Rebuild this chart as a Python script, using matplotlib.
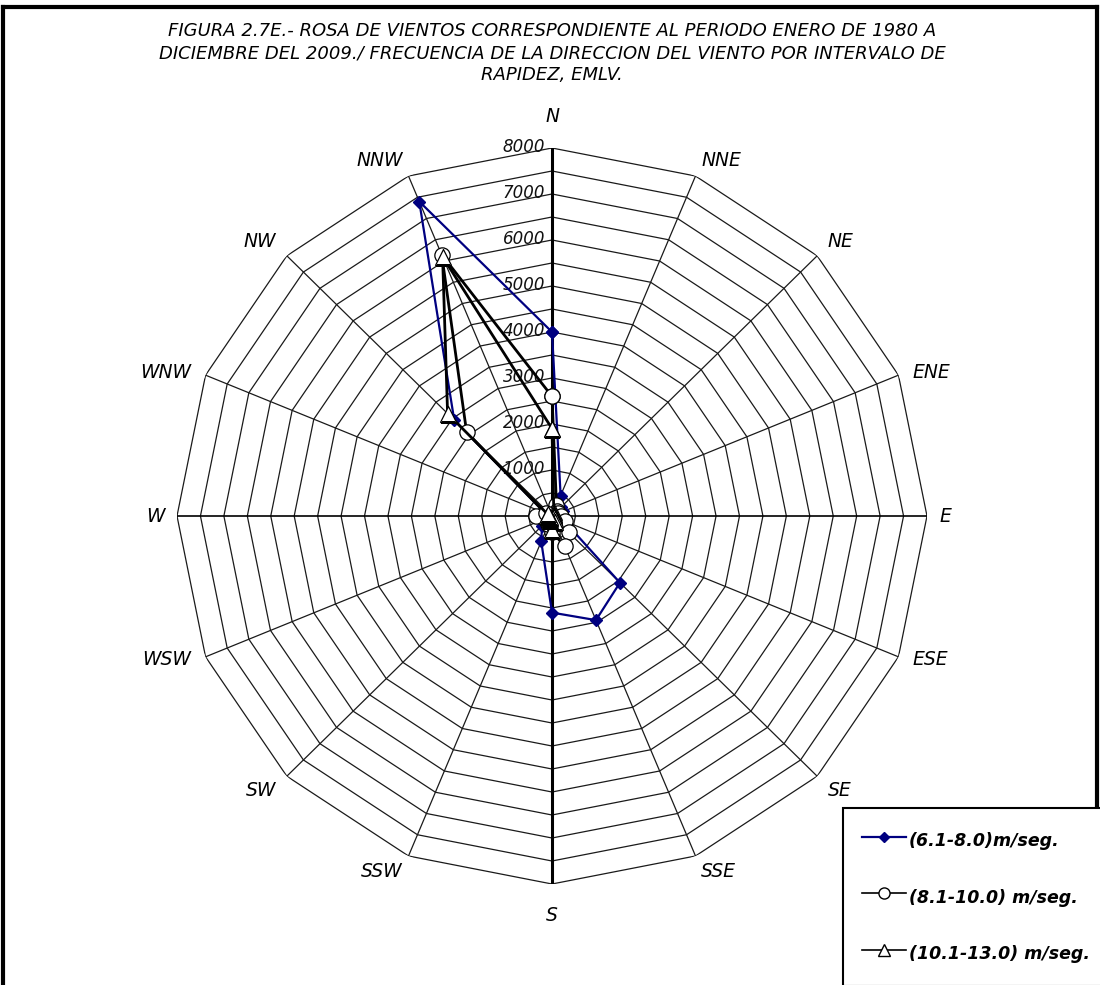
import numpy as np
import matplotlib
matplotlib.use("Agg")
import matplotlib.pyplot as plt
from matplotlib.lines import Line2D

plt.rcParams["font.family"] = ["DejaVu Sans"]

directions = ["N", "NNE", "NE", "ENE", "E", "ESE", "SE", "SSE",
              "S", "SSW", "SW", "WSW", "W", "WNW", "NW", "NNW"]

# frequency per direction, one list per speed interval
freq_6_8 = [4000, 480, 280, 260, 260, 280, 2050, 2450,
            2100, 600, 300, 250, 150, 150, 2950, 7400]
freq_8_10 = [2600, 250, 150, 150, 200, 300, 500, 700,
             350, 200, 150, 150, 350, 150, 2575, 6150]
freq_10_13 = [1900, 100, 50, 50, 50, 50, 100, 150,
              300, 100, 50, 50, 100, 100, 3150, 6100]

series_labels = ["(6.1-8.0)m/seg.", "(8.1-10.0) m/seg.", "(10.1-13.0) m/seg."]
r_ticks = [0, 1000, 2000, 3000, 4000, 5000, 6000, 7000, 8000]
r_max = 8000
ring_step = 500

title = ("FIGURA 2.7E.- ROSA DE VIENTOS CORRESPONDIENTE AL PERIODO ENERO DE 1980 A\n"
         "DICIEMBRE DEL 2009./ FRECUENCIA DE LA DIRECCION DEL VIENTO POR INTERVALO DE\n"
         "RAPIDEZ, EMLV.")


def closed(vals):
    vals = list(vals)
    return vals + vals[:1]


fig = plt.figure(figsize=(11, 9.85), dpi=100)

# center (552, 516) px, radius ~375 horiz / 368 vert
cx, cy = 552, 985 - 516
rx, ry = 375, 368
ax = fig.add_axes([(cx - rx) / 1100, (cy - ry) / 985, 2 * rx / 1100, 2 * ry / 985],
                  polar=True)
ax.set_aspect("auto")
ax.set_theta_zero_location("N")
ax.set_theta_direction(-1)
ax.set_ylim(0, r_max)
ax.grid(False)
ax.set_xticks([])
ax.set_yticks([])
ax.spines["polar"].set_visible(False)
ax.set_facecolor("none")

n = len(directions)
angles = np.arange(n) * 2 * np.pi / n
ang_c = closed(angles)

# polygon rings
for r in np.arange(ring_step, r_max + 1, ring_step):
    ax.plot(ang_c, [r] * (n + 1), color="#1a1a1a", lw=0.9, zorder=1)

# spokes
for i, a in enumerate(angles):
    if directions[i] in ("N", "S"):
        lw, col = 2.2, "black"
    elif directions[i] in ("E", "W"):
        lw, col = 1.2, "black"
    else:
        lw, col = 0.9, "#1a1a1a"
    ax.plot([a, a], [0, r_max], color=col, lw=lw, zorder=1)

# radial tick labels along N axis
for t in r_ticks:
    ax.annotate(str(t), xy=(0, t), xytext=(-5, 1), textcoords="offset points",
                ha="right", va="center", fontsize=12, style="italic",
                color="#111111", zorder=2)

# direction labels, set just outside each vertex
for a, d in zip(angles, directions):
    s, c = np.sin(a), np.cos(a)
    ha = "left" if s > 0.2 else ("right" if s < -0.2 else "center")
    va = "bottom" if c > 0.5 else ("top" if c < -0.5 else "center")
    if abs(s) < 0.1:
        dx, dy = 0, 16 * c
    elif abs(c) < 0.1:
        dx, dy = 9 * s, 0
    else:
        dx, dy = 11 * s, 5 * c
    ax.annotate(d, xy=(a, r_max), xytext=(dx, dy),
                textcoords="offset points", ha=ha, va=va, fontsize=13.5,
                style="italic", color="black")

ax.plot(ang_c, closed(freq_6_8), color="#000080", lw=1.6, marker="D",
        markersize=6, markerfacecolor="#000080", markeredgecolor="#000080",
        label=series_labels[0], zorder=3)
ax.plot(ang_c, closed(freq_8_10), color="black", lw=2.0, marker="o",
        markersize=11, markerfacecolor="white", markeredgecolor="black",
        markeredgewidth=0.9, label=series_labels[1], zorder=4)
ax.plot(ang_c, closed(freq_10_13), color="black", lw=2.0, marker="^",
        markersize=11, markerfacecolor="white", markeredgecolor="black",
        markeredgewidth=0.9, label=series_labels[2], zorder=5)

fig.text(552 / 1100, 1 - 53 / 985, title, ha="center", va="center",
         fontsize=13, style="italic", linespacing=1.32)

handles = [
    Line2D([], [], color="#000080", lw=1.6, marker="D", markersize=5,
           markerfacecolor="#000080"),
    Line2D([], [], color="black", lw=1.2, marker="o", markersize=8,
           markerfacecolor="white", markeredgecolor="black"),
    Line2D([], [], color="black", lw=1.2, marker="^", markersize=8,
           markerfacecolor="white", markeredgecolor="black"),
]
leg = fig.legend(handles, series_labels, loc="upper left",
                 bbox_to_anchor=(843 / 1100, 1 - 808 / 985),
                 bbox_transform=fig.transFigure, frameon=True, fancybox=False,
                 shadow={"color": "black", "alpha": 1},
                 edgecolor="black", framealpha=1,
                 prop={"size": 12.5, "style": "italic", "weight": "bold"},
                 handlelength=2.5, handleheight=2.0, handletextpad=0.2,
                 labelspacing=1.71, borderpad=1.1, borderaxespad=0)
leg.get_frame().set_linewidth(1.5)

# page frame (left, top, right)
for xs, ys in [([0.003, 0.003], [0, 0.993]), ([0.003, 0.997], [0.993, 0.993]),
               ([0.997, 0.997], [0, 0.993])]:
    fig.add_artist(Line2D(xs, ys, transform=fig.transFigure, color="black", lw=3))

fig.savefig("out.png", dpi=100, facecolor="white")
